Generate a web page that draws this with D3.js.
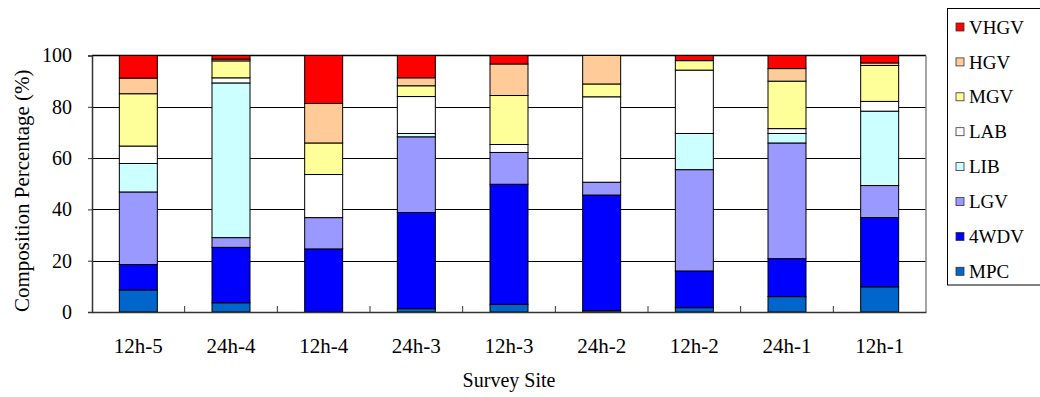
<!DOCTYPE html>
<html><head><meta charset="utf-8">
<script src="https://cdn.jsdelivr.net/npm/d3@7"></script>
<style>body{margin:0;background:#fff}svg{display:block}svg text{font-family:"Liberation Serif","Times New Roman",Times,"DejaVu Serif",serif !important;fill:#000}</style>
</head><body><svg id="c" width="1040" height="397"></svg>
<script>
const categories = ["12h-5","24h-4","12h-4","24h-3","12h-3","24h-2","12h-2","24h-1","12h-1"];
const seriesNames = ["MPC","4WDV","LGV","LIB","LAB","MGV","HGV","VHGV"];
const seriesColors = ["#0066CC","#0000FF","#9999FF","#CCFFFF","#FFFFFF","#FFFF99","#FFCC99","#FF0000"];
const MPC  = [8.6, 3.6, 0.0, 1.3, 3.0, 0.6, 1.7, 6.0, 9.8];
const WDV4 = [9.9, 21.6, 24.6, 37.5, 46.8, 45.0, 14.3, 14.8, 27.0];
const LGV  = [28.3, 3.8, 12.2, 29.5, 12.4, 5.0, 39.5, 45.1, 12.5];
const LIB  = [11.1, 60.3, 0.0, 1.3, 0.0, 0.0, 14.1, 3.7, 29.0];
const LAB  = [6.8, 2.0, 16.8, 14.4, 3.1, 33.3, 24.7, 1.9, 3.8];
const MGV  = [20.4, 6.6, 12.3, 4.2, 19.1, 5.0, 3.7, 18.5, 14.0];
const HGV  = [6.1, 0.7, 15.4, 3.1, 12.3, 11.1, 0.0, 4.9, 1.0];
const VHGV = [8.8, 1.4, 18.7, 8.7, 3.3, 0.0, 2.0, 5.1, 2.9];
const yTicks = [0, 20, 40, 60, 80, 100];
const xTitle = "Survey Site";
const yTitle = "Composition Percentage (%)";

const seriesValues = [MPC, WDV4, LGV, LIB, LAB, MGV, HGV, VHGV];
const rows = categories.map((c, i) => {
  const r = {cat: c};
  seriesNames.forEach((s, j) => r[s] = seriesValues[j][i]);
  return r;
});
const stacked = d3.stack().keys(seriesNames)(rows);

const svg = d3.select("#c");
const L = 92, R = 926, T = 55.5, B = 312;
const x = d3.scaleBand().domain(categories).range([L, R]).padding(0);
const y = d3.scaleLinear().domain([0, 100]).range([B, T]);
const color = d3.scaleOrdinal().domain(seriesNames).range(seriesColors);
const barW = x.bandwidth() * 0.41;

// gridlines
svg.append("g").selectAll("line").data(yTicks.filter(t => t > 0 && t < 100)).join("line")
  .attr("x1", L).attr("x2", R).attr("y1", d => Math.round(y(d)) + 0.5).attr("y2", d => Math.round(y(d)) + 0.5)
  .attr("stroke", "#000").attr("stroke-width", 1);
// top and right frame
svg.append("line").attr("x1", L).attr("x2", R).attr("y1", T).attr("y2", T).attr("stroke", "#000").attr("stroke-width", 1.5);
svg.append("line").attr("x1", R).attr("x2", R).attr("y1", T).attr("y2", B).attr("stroke", "#888").attr("stroke-width", 1.5);

// bars
svg.append("g").selectAll("g").data(stacked).join("g")
  .attr("fill", d => color(d.key))
  .selectAll("rect").data(d => d.filter(p => p[1] - p[0] > 0)).join("rect")
  .attr("x", d => x(d.data.cat) + (x.bandwidth() - barW) / 2)
  .attr("width", barW)
  .attr("y", d => y(d[1]))
  .attr("height", d => y(d[0]) - y(d[1]))
  .attr("stroke", "#000").attr("stroke-width", 1);

// y axis
const yAxis = d3.axisLeft(y).tickValues(yTicks).tickSize(4).tickPadding(16);
const gy = svg.append("g").attr("transform", `translate(${L},0)`).call(yAxis).attr("font-family", null);
gy.select(".domain").attr("stroke", "#333").attr("stroke-width", 1.5);
gy.selectAll(".tick line").attr("stroke", "#333");
gy.selectAll("text").attr("font-size", 20);

// x axis
const xAxis = d3.axisBottom(x).tickSize(0).tickPadding(26);
const gx = svg.append("g").attr("transform", `translate(0,${B})`).call(xAxis).attr("font-family", null);
gx.select(".domain").attr("stroke", "#333").attr("stroke-width", 1.5);
gx.selectAll("text").attr("font-size", 21);
// inward boundary ticks
svg.append("g").selectAll("line").data(categories.slice(1)).join("line")
  .attr("x1", d => x(d)).attr("x2", d => x(d)).attr("y1", B).attr("y2", B - 6)
  .attr("stroke", "#333").attr("stroke-width", 1);

// titles
svg.append("text").attr("x", (L + R) / 2).attr("y", 387).attr("text-anchor", "middle")
  .attr("font-size", 20).text(xTitle);
svg.append("text").attr("transform", `translate(29,${(T + B) / 2 + 7}) rotate(-90)`).attr("text-anchor", "middle")
  .attr("font-size", 21).text(yTitle);

// legend
svg.append("rect").attr("x", 947.5).attr("y", 8.5).attr("width", 110).attr("height", 276.5)
  .attr("fill", "none").attr("stroke", "#000").attr("stroke-width", 1);
const legendOrder = seriesNames.slice().reverse();
const lg = svg.append("g").selectAll("g").data(legendOrder).join("g")
  .attr("transform", (d, i) => `translate(0,${27 + i * 34.9})`);
lg.append("rect").attr("x", 956).attr("y", -4).attr("width", 8).attr("height", 8)
  .attr("fill", d => color(d)).attr("stroke", "#333").attr("stroke-width", 0.8);
lg.append("text").attr("x", 969).attr("y", 0).attr("dy", "0.35em").attr("font-size", 19).text(d => d);
</script></body></html>
